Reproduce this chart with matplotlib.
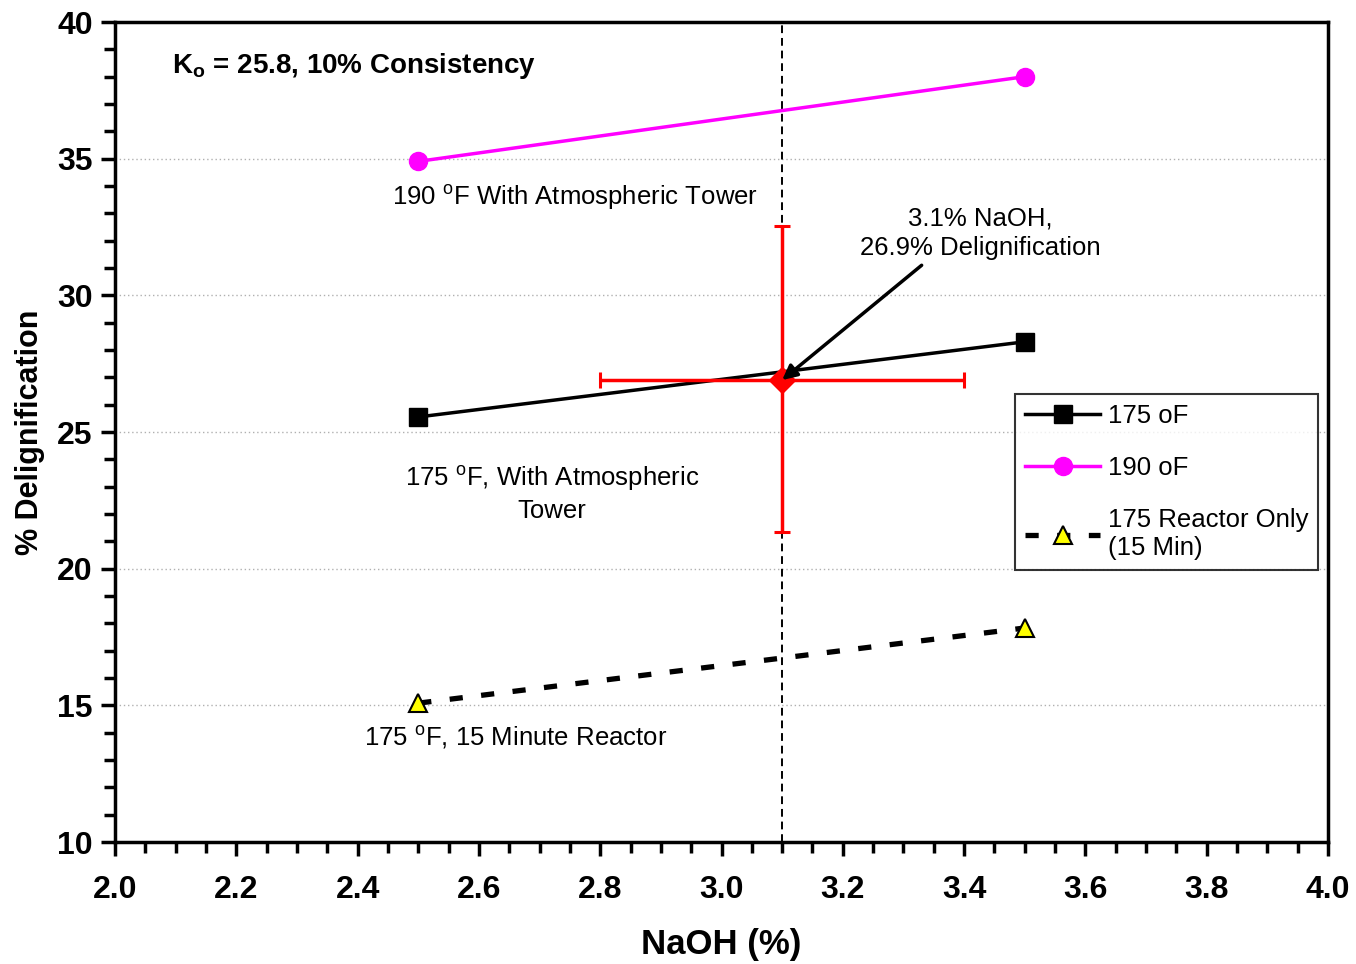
import matplotlib
matplotlib.use("Agg")
import matplotlib.pyplot as plt
from matplotlib.ticker import MultipleLocator

plt.rcParams['font.family'] = ['Liberation Sans', 'DejaVu Sans']

x_naoh = [2.5, 3.5]
y_175 = [25.55, 28.3]
y_190 = [34.9, 38.0]
y_reactor = [15.08, 17.83]
pt_x, pt_y = 3.1, 26.9
pt_xerr = 0.3
pt_yerr_low, pt_yerr_high = 5.55, 5.65
x_ticks = [2.0, 2.2, 2.4, 2.6, 2.8, 3.0, 3.2, 3.4, 3.6, 3.8, 4.0]
y_ticks = [10, 15, 20, 25, 30, 35, 40]

fig = plt.figure(figsize=(13.56, 9.64), dpi=100)
ax = fig.add_axes([115/1356, 1-842/964, (1328-115)/1356, (842-22)/964])

ax.set_xlim(2.0, 4.0)
ax.set_ylim(10, 40)

for yv in y_ticks[1:-1]:
    ax.axhline(yv, color='#b0b0b0', lw=1, ls=(0, (1, 2)), zorder=0)

ax.axvline(3.1, color='black', lw=1.4, ls=(0, (4, 2.5)), zorder=1)

ax.plot(x_naoh, y_175, color='black', lw=2.5, marker='s', ms=13, mfc='black', mec='black', label='175 oF', zorder=3)
ax.plot(x_naoh, y_190, color='#ff00ff', lw=2.5, marker='o', ms=13, mfc='#ff00ff', mec='#ff00ff', label='190 oF', zorder=3)
ax.plot(x_naoh, y_reactor, color='black', lw=3.8, ls=(0, (2.5, 3.5)), marker='^', ms=13, mfc='#ffff00', mec='black', mew=1.5,
        label='175 Reactor Only\n(15 Min)', zorder=3)

ax.errorbar([pt_x], [pt_y], xerr=[[pt_xerr], [pt_xerr]], yerr=[[pt_yerr_low], [pt_yerr_high]],
            fmt='D', color='red', ms=13, ecolor='red', elinewidth=2.5, capsize=6, capthick=2.2, zorder=4)

ax.annotate('', xy=(pt_x, pt_y), xytext=(3.33, 31.1),
            arrowprops=dict(arrowstyle='-|>', color='black', lw=2.5, mutation_scale=22,
                            shrinkA=0, shrinkB=0), zorder=5)
ax.text(3.426, 32.28, '3.1% NaOH,\n26.9% Delignification', fontsize=18.5, ha='center', va='center',
        linespacing=1.3)

ax.text(0.047, 0.946, r'K$_\mathregular{o}$ = 25.8, 10% Consistency', transform=ax.transAxes,
        fontsize=20, fontweight='bold', va='center', ha='left')
ax.text(2.758, 33.6, r'190 $^\mathregular{o}$F With Atmospheric Tower', fontsize=18.5, ha='center', va='center')
ax.text(2.72, 22.77, '175 $^\\mathregular{o}$F, With Atmospheric\nTower', fontsize=18.5, ha='center', va='center',
        linespacing=1.3)
ax.text(2.66, 13.84, r'175 $^\mathregular{o}$F, 15 Minute Reactor', fontsize=18.5, ha='center', va='center')

ax.xaxis.set_minor_locator(MultipleLocator(0.05))
ax.yaxis.set_minor_locator(MultipleLocator(1))
ax.set_xticks(x_ticks)
ax.set_xticklabels([f'{v:.1f}' for v in x_ticks], fontweight='bold', fontsize=23)
ax.set_yticks(y_ticks)
ax.set_yticklabels([str(v) for v in y_ticks], fontweight='bold', fontsize=23)
ax.tick_params(which='major', direction='out', length=10, width=2.5)
ax.tick_params(which='minor', direction='out', length=8, width=2.5)
ax.tick_params(axis='x', which='major', pad=14)
ax.tick_params(axis='y', which='major', pad=6)

for s in ax.spines.values():
    s.set_linewidth(2.5)

ax.set_xlabel('NaOH (%)', fontsize=25, fontweight='bold', labelpad=16)
ax.set_ylabel('% Delignification', fontsize=22, fontweight='bold', labelpad=9)

leg = ax.legend(loc='upper left', bbox_to_anchor=(0.7315, 0.5625), fontsize=18.5, frameon=True, fancybox=False,
                edgecolor='black', handlelength=2.9, handletextpad=0.3, labelspacing=1.1, borderpad=0.4)
leg.get_frame().set_linewidth(1.5)

fig.savefig('out.png', dpi=100)
